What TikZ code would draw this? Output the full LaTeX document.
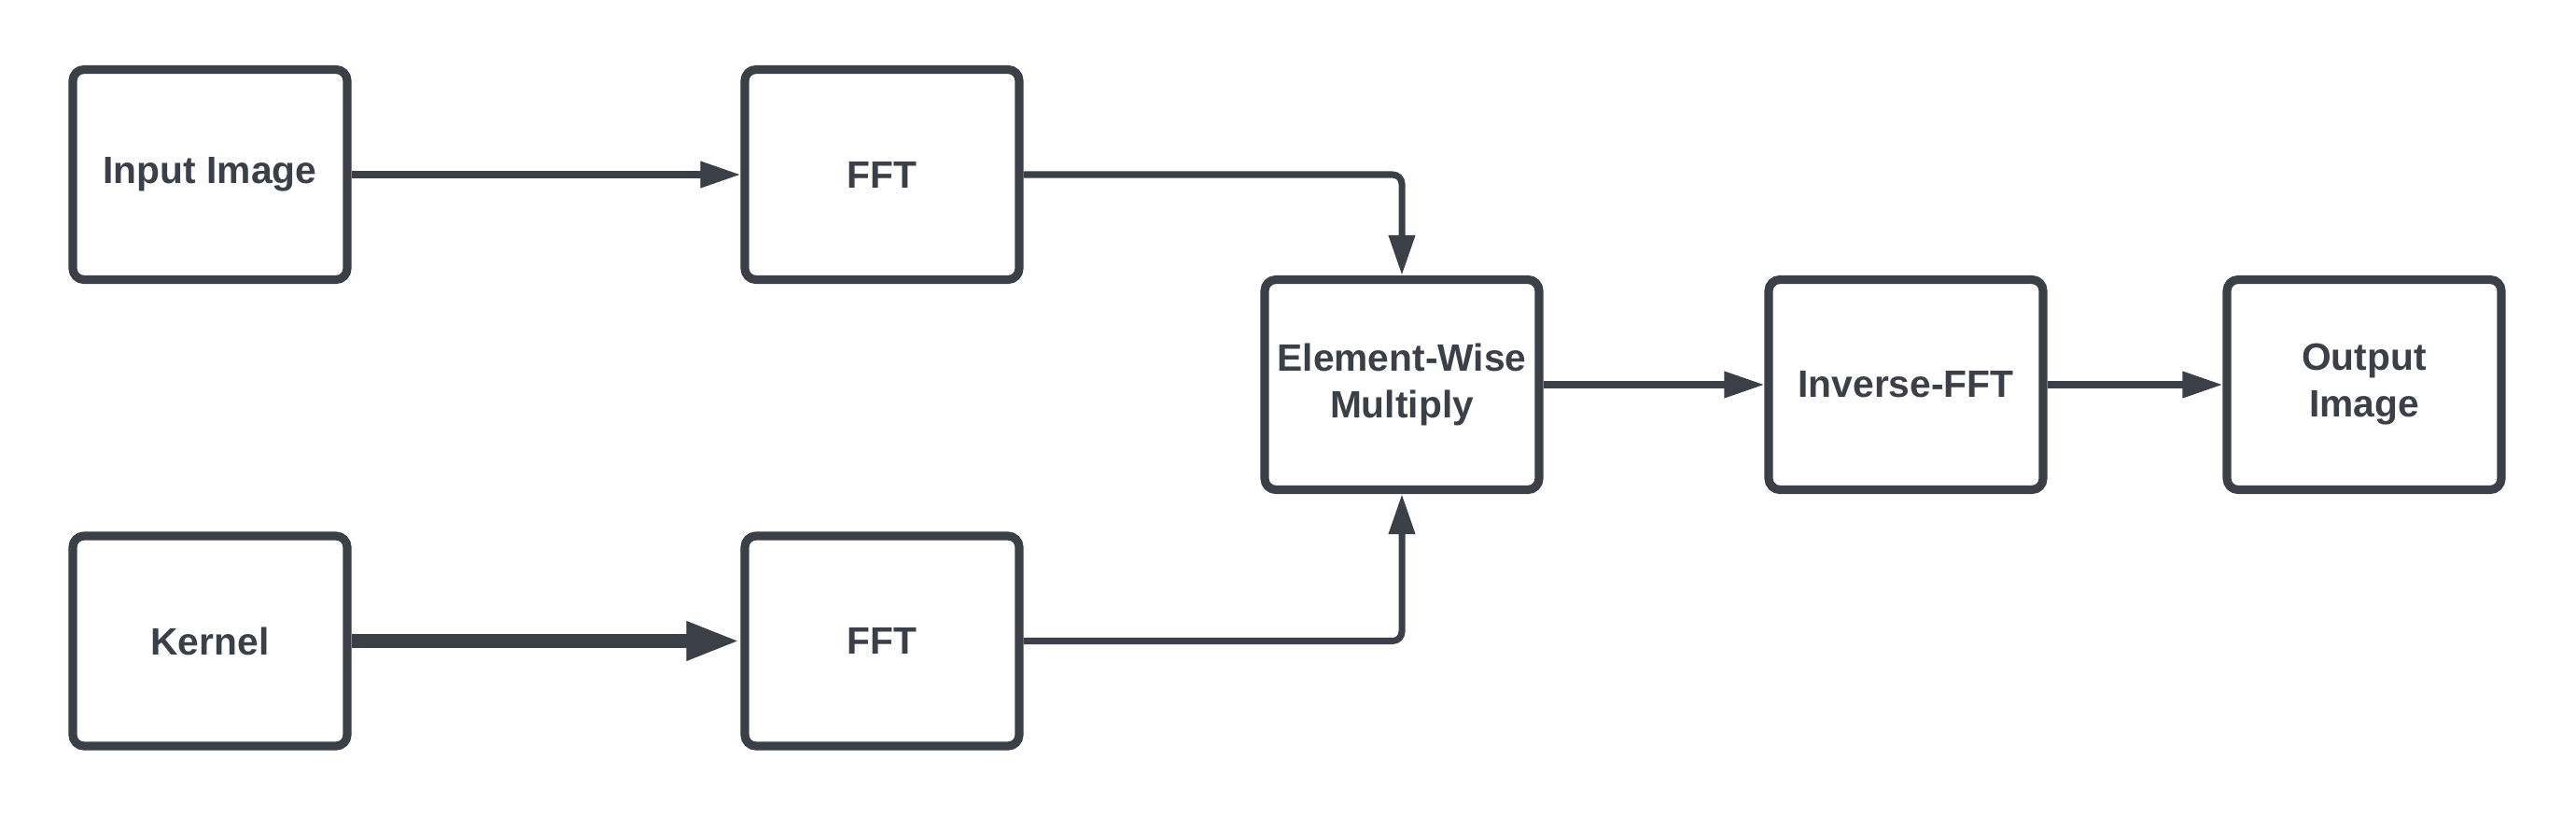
\documentclass[tikz,border=0pt]{standalone}
\usepackage{fontspec}
\setmainfont{Liberation Sans}
\usetikzlibrary{arrows.meta}
\definecolor{slate}{HTML}{3A3F48}

\begin{document}
\begin{tikzpicture}[
	block/.style={draw=slate, line width=2.6pt, rounded corners=0.12cm,
		minimum width=2.94cm, minimum height=2.25cm, align=center,
		text=slate, font=\fontsize{11.6}{14.2}\selectfont\bfseries},
	flow/.style={draw=slate, line width=2pt, rounded corners=0.1cm,
		-{Triangle[length=0.43cm,width=0.27cm]}},
	heavyflow/.style={draw=slate, line width=4.3pt,
		-{Triangle[length=0.58cm,width=0.38cm]}}
	]
	% Fix the page size
	\useasboundingbox (0,0) rectangle (27.6,8.74);
	
	% Draw the blocks
	\node[block] (input) at (2.25,6.87) {Input Image};
	\node[block] (fftA) at (9.45,6.87) {FFT};
	\node[block] (kernel) at (2.25,1.875) {Kernel};
	\node[block] (fftB) at (9.45,1.875) {FFT};
	\node[block] (mult) at (15.02,4.62) {Element-Wise\\Multiply};
	\node[block] (ifft) at (20.42,4.62) {Inverse-FFT};
	\node[block] (output) at (25.33,4.62) {Output\\Image};
	
	% Draw the connectors
	\draw[flow] (input) -- (fftA);
	\draw[heavyflow] (kernel) -- (fftB);
	\draw[flow] (fftA.east) -| (mult.north);
	\draw[flow] (fftB.east) -| (mult.south);
	\draw[flow] (mult) -- (ifft);
	\draw[flow] (ifft) -- (output);
\end{tikzpicture}
\end{document}
